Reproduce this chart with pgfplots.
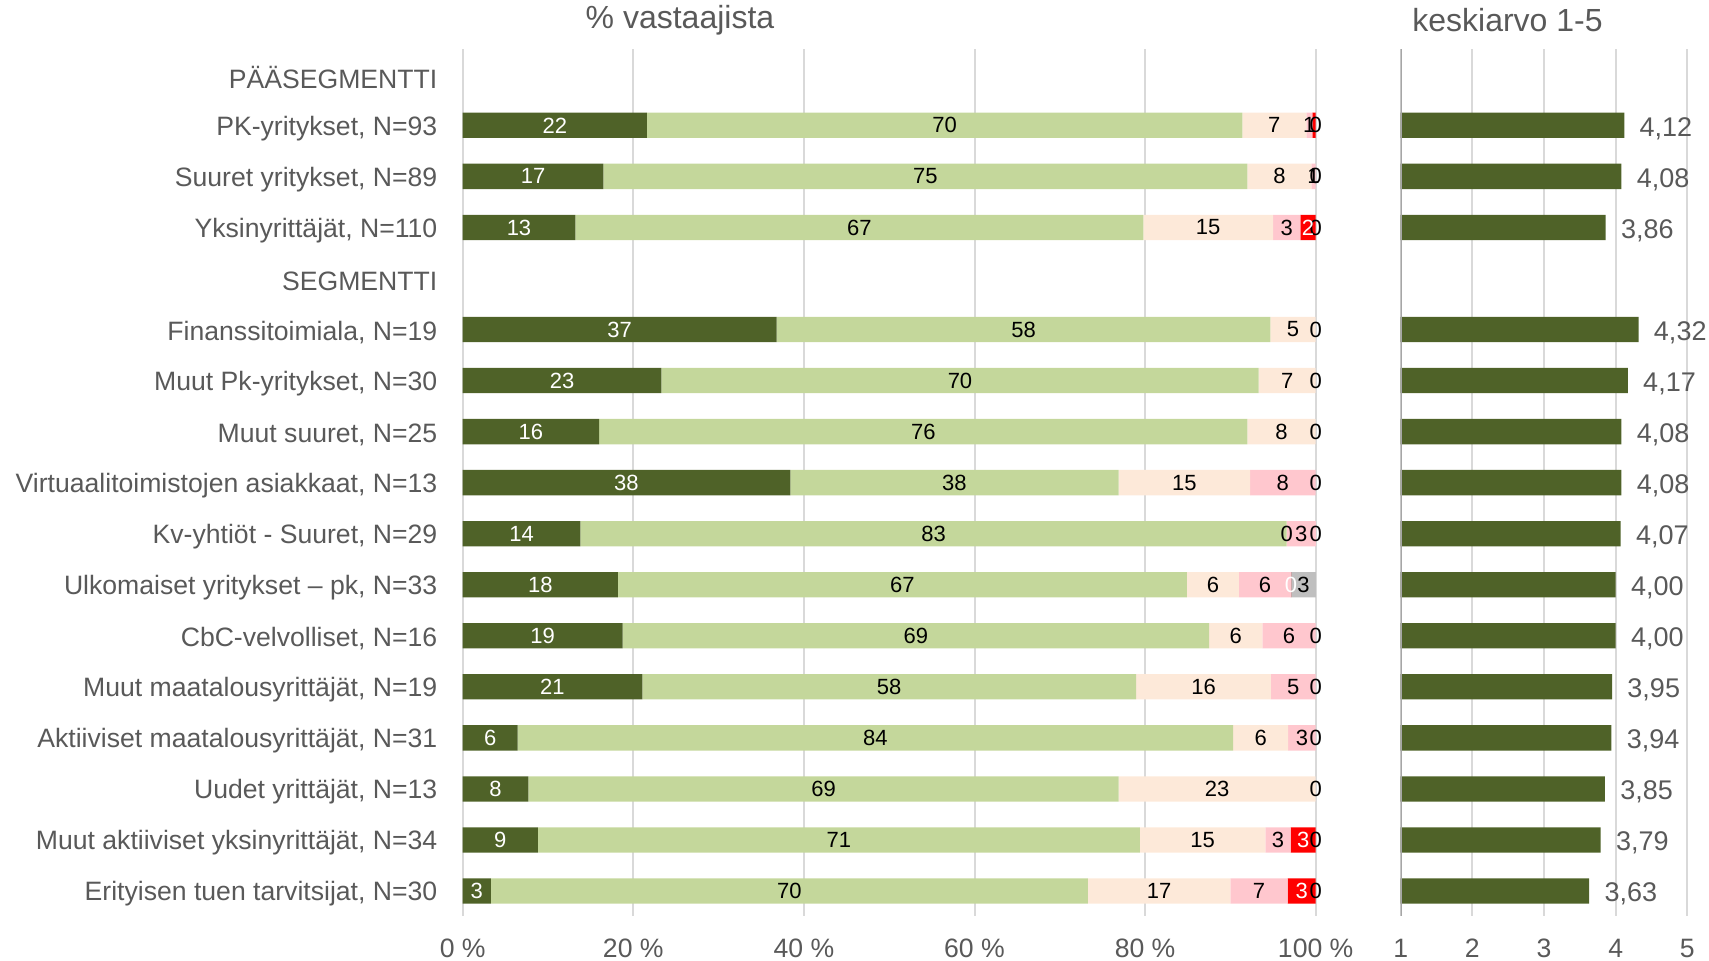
\documentclass[border=0pt]{standalone}
\usepackage{fontspec}
\setmainfont{Liberation Sans}
\usepackage{pgfplots}
\pgfplotsset{compat=1.18}

\definecolor{dgreen}{HTML}{4F6228}
\definecolor{lgreen}{HTML}{C4D79B}
\definecolor{peach}{HTML}{FDE9D9}
\definecolor{pink}{HTML}{FFC7CE}
\definecolor{hred}{HTML}{FF0000}
\definecolor{eos}{HTML}{BFBFBF}
\definecolor{txtgray}{HTML}{595959}
\definecolor{gridgray}{HTML}{D9D9D9}
\definecolor{axgray}{HTML}{A6A6A6}

\pgfplotsset{
  common/.style={
    scale only axis, height=433.35pt,
    ymin=-0.49, ymax=16.49, y dir=reverse,
    bar width=12.65pt,
    major tick length=0pt,
    axis line style={draw=none},
    xmajorgrids, grid style={color=gridgray, line width=1pt},
    tick label style={font=\fontsize{13.3}{15}\selectfont, text=txtgray},
    xticklabel style={anchor=center, yshift=-16pt},
    point meta=explicit symbolic,
  },
  seg/.style 2 args={fill=#1, draw=none,
    nodes near coords={\textcolor{#2}{\pgfplotspointmeta}}},
}

\begin{document}
\begin{tikzpicture}
\useasboundingbox (-231.35pt,-22.5pt) rectangle (623.15pt,458pt);

% xmax a hair above 100 so that labels of segments ending at 100 are kept
\begin{axis}[common,
  at={(0pt,0pt)}, anchor=south west, width=426.93pt,
  xbar stacked, clip=false,
  xmin=0, xmax=100.1,
  xtick={0,20,...,100},
  xticklabels={0 \%,20 \%,40 \%,60 \%,80 \%,100 \%},
  ytick={0,...,16},
  yticklabels={PÄÄSEGMENTTI, {PK-yritykset, N=93}, {Suuret yritykset, N=89},
    {Yksinyrittäjät, N=110}, SEGMENTTI, {Finanssitoimiala, N=19},
    {Muut Pk-yritykset, N=30}, {Muut suuret, N=25},
    {Virtuaalitoimistojen asiakkaat, N=13}, {Kv-yhtiöt - Suuret, N=29},
    {Ulkomaiset yritykset – pk, N=33}, {CbC-velvolliset, N=16},
    {Muut maatalousyrittäjät, N=19}, {Aktiiviset maatalousyrittäjät, N=31},
    {Uudet yrittäjät, N=13}, {Muut aktiiviset yksinyrittäjät, N=34},
    {Erityisen tuen tarvitsijat, N=30}},
  yticklabel style={anchor=east, inner sep=0pt, xshift=-12.5pt, yshift=-1.5pt},
  nodes near coords align={center},
  every node near coord/.append style={anchor=center, inner sep=0pt,
    font=\fontsize{11}{12}\selectfont},
]
% erittain tyytyvainen
\addplot[seg={dgreen}{white}] coordinates {
(21.6,1) [22] (16.5,2) [17] (13.2,3) [13] (36.8,5) [37] (23.3,6) [23] (16.0,7) [16]
(38.4,8) [38] (13.8,9) [14] (18.2,10) [18] (18.75,11) [19] (21.05,12) [21]
(6.45,13) [6] (7.7,14) [8] (8.8,15) [9] (3.3,16) [3]
};
% tyytyvainen
\addplot[seg={lgreen}{black}] coordinates {
(69.8,1) [70] (75.5,2) [75] (66.6,3) [67] (57.9,5) [58] (70.0,6) [70] (76.0,7) [76]
(38.5,8) [38] (82.8,9) [83] (66.7,10) [67] (68.75,11) [69] (57.9,12) [58]
(83.87,13) [84] (69.2,14) [69] (70.6,15) [71] (70.0,16) [70]
};
% neutraali
\addplot[seg={peach}{black}] coordinates {
(7.5,1) [7] (7.5,2) [8] (15.2,3) [15] (5.3,5) [5] (6.7,6) [7] (8.0,7) [8]
(15.4,8) [15] (0.01,9) [0] (6.1,10) [6] (6.25,11) [6] (15.8,12) [16]
(6.45,13) [6] (23.1,14) [23] (14.7,15) [15] (16.7,16) [17]
};
% tyytymaton
\addplot[seg={pink}{black}] coordinates {
(0.7,1) [1] (0.5,2) [1] (3.2,3) [3] (0,5) [] (0,6) [] (0,7) []
(7.7,8) [8] (3.4,9) [3] (6.1,10) [6] (6.25,11) [6] (5.25,12) [5]
(3.23,13) [3] (0,14) [] (2.95,15) [3] (6.7,16) [7]
};
% erittain tyytymaton
\addplot[seg={hred}{white}] coordinates {
(0.4,1) [] (0,2) [] (1.8,3) [2] (0,5) [] (0,6) [] (0,7) []
(0,8) [] (0,9) [] (0.01,10) [0] (0,11) [] (0,12) []
(0,13) [] (0,14) [] (2.95,15) [3] (3.3,16) [3]
};
% ei osaa sanoa
\addplot[seg={eos}{black}] coordinates {
(0.01,1) [0] (0.01,2) [0] (0.01,3) [0] (0.01,5) [0] (0.01,6) [0] (0.01,7) [0]
(0.01,8) [0] (0.01,9) [0] (2.9,10) [3] (0.01,11) [0] (0.01,12) [0]
(0.01,13) [0] (0.01,14) [0] (0.01,15) [0] (0.01,16) [0]
};
\end{axis}

\begin{axis}[common,
  at={(469pt,0pt)}, anchor=south west, width=143.3pt,
  xbar,
  xmin=1, xmax=5,
  xtick={1,...,5}, xticklabels={1,2,3,4,5},
  ytick=\empty,
  nodes near coords,
  every node near coord/.append style={anchor=west, inner sep=0pt, xshift=7.5pt,
    yshift=-1.5pt, font=\fontsize{13.5}{15}\selectfont, text=txtgray},
]
\addplot[fill=dgreen, draw=none] coordinates {
(4.12,1) [{4,12}] (4.08,2) [{4,08}] (3.86,3) [{3,86}]
(4.32,5) [{4,32}] (4.17,6) [{4,17}] (4.08,7) [{4,08}] (4.08,8) [{4,08}]
(4.07,9) [{4,07}] (4.00,10) [{4,00}] (4.00,11) [{4,00}] (3.95,12) [{3,95}]
(3.94,13) [{3,94}] (3.85,14) [{3,85}] (3.79,15) [{3,79}] (3.63,16) [{3,63}]
};
\draw[axgray, line width=1pt] (rel axis cs:0,0) -- (rel axis cs:0,1);
\end{axis}

\node[font=\fontsize{16}{18}\selectfont, text=txtgray] at (108.65pt,448pt) {\% vastaajista};
\node[font=\fontsize{16}{18}\selectfont, text=txtgray] at (522.4pt,448pt) {keskiarvo 1-5};
\end{tikzpicture}
\end{document}
